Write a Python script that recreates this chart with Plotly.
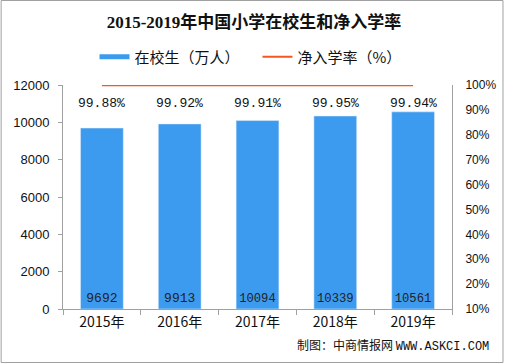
import plotly.graph_objects as go

years = ["2015年", "2016年", "2017年", "2018年", "2019年"]
students = [9692, 9913, 10094, 10339, 10561]
rates = [99.88, 99.92, 99.91, 99.95, 99.94]
rate_labels = ["99.88%", "99.92%", "99.91%", "99.95%", "99.94%"]

BLUE = "#3d9bef"
ORANGE = "#f4581c"
GRAY = "#a0a0a0"
MONO = "Liberation Mono, monospace"
CJK = "Noto Sans CJK SC, sans-serif"

fig = go.Figure()
fig.add_trace(go.Bar(
    x=years, y=students, marker_color=BLUE, width=0.55,
    text=[str(v) for v in students], textposition="inside",
    insidetextanchor="start", textangle=0,
    textfont=dict(family=MONO, size=13, color="#222"),
    showlegend=False, hoverinfo="skip",
))
fig.add_trace(go.Scatter(
    x=years, y=rates, yaxis="y2", mode="lines",
    line=dict(color=ORANGE, width=2), showlegend=False,
))
# legend entries
fig.add_trace(go.Scatter(x=[None], y=[None], mode="lines",
                         line=dict(color=BLUE, width=5), name="在校生（万人）"))
fig.add_trace(go.Scatter(x=[None], y=[None], mode="lines", yaxis="y2",
                         line=dict(color=ORANGE, width=2), name="净入学率（%）"))

for x, y, t in zip(years, rates, rate_labels):
    fig.add_annotation(x=x, y=y, yref="y2", text=t, showarrow=False,
                       yshift=-18, font=dict(family=MONO, size=13, color="#111"))

fig.update_layout(
    width=508, height=363,
    margin=dict(l=63, r=52, t=85, b=54),
    paper_bgcolor="white", plot_bgcolor="white",
    title=dict(text="<b>2015-2019年中国小学在校生和净入学率</b>",
               x=0.5, xanchor="center", y=1 - 22 / 363, yanchor="middle",
               font=dict(family="Liberation Serif, Noto Sans CJK SC, serif", size=17, color="#111")),
    legend=dict(orientation="h", x=0.5, xanchor="center", y=1.125, yanchor="middle",
                font=dict(family=CJK, size=15, color="#111"),
                itemwidth=30, entrywidth=118, entrywidthmode="pixels"),
    xaxis=dict(showline=True, linecolor=GRAY, linewidth=1, ticks="outside",
               tickson="boundaries", ticklen=5, tickcolor=GRAY,
               tickfont=dict(family=CJK, size=14, color="#111"), showgrid=False),
    yaxis=dict(range=[0, 12000], dtick=2000, tickformat="d", showline=True, linecolor=GRAY,
               ticks="outside", ticklen=4, tickcolor=GRAY, showgrid=False,
               zeroline=False, ticklabelstandoff=6,
               tickfont=dict(family="Liberation Sans, sans-serif", size=13, color="#111")),
    yaxis2=dict(range=[10, 100], dtick=10, ticksuffix="%", overlaying="y",
                side="right", showline=True, linecolor=GRAY, showgrid=False,
                zeroline=False, ticks="", ticklabelstandoff=10,
                tickfont=dict(family="Liberation Sans, sans-serif", size=12, color="#111")),
    bargap=0.45,
)

fig.add_annotation(xref="paper", yref="paper", x=1 + 39 / 393, y=-36 / 224, xanchor="right",
                   yanchor="middle", showarrow=False,
                   text="制图：中商情报网 <span style='font-family:Liberation Mono'>WWW.ASKCI.COM</span>",
                   font=dict(family=CJK, size=12, color="#111"))

# outer frame
fig.add_shape(type="rect", xref="paper", yref="paper",
              x0=-62.5 / 393, x1=1 + 51.5 / 393, y0=-53.5 / 224, y1=1 + 84.5 / 224,
              line=dict(color=GRAY, width=1))

fig.write_html("out.html", config={"displayModeBar": False},
               post_script="document.body.style.margin='0';")
